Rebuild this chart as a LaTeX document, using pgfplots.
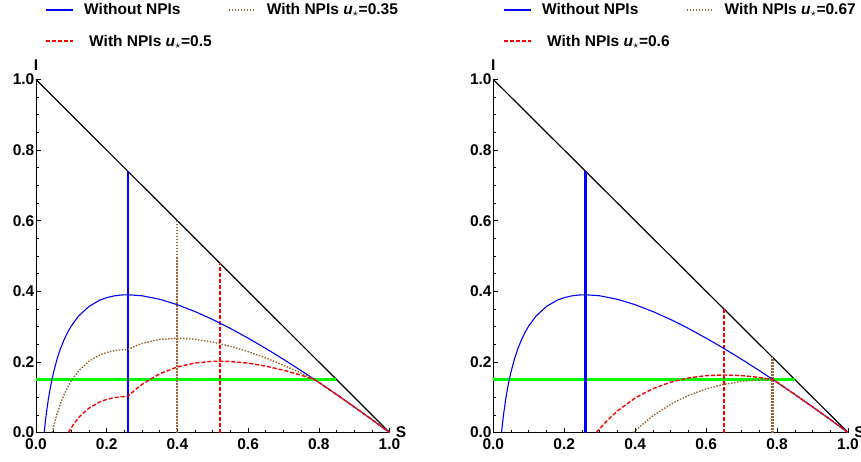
\documentclass[border=0pt]{standalone}
\usepackage{fontspec}
\setmainfont{Liberation Sans}
\usepackage{pgfplots}
\pgfplotsset{compat=1.18}
\definecolor{npibrown}{rgb}{0.6,0.4,0.2}
\definecolor{npigreen}{rgb}{0,1,0}
\definecolor{npiblue}{rgb}{0,0,1}
\definecolor{npired}{rgb}{1,0,0}
\newcommand{\us}{\textit{u}$_{\star}$}
\pgfplotstableread{
S I
0.0233 0
0.024 0.0074
0.025 0.0170
0.027 0.0350
0.03 0.0593
0.035 0.0944
0.04 0.1240
0.045 0.1496
0.05 0.1720
0.06 0.2094
0.07 0.2394
0.08 0.2641
0.09 0.2847
0.10 0.3020
0.12 0.3294
0.15 0.3573
0.18 0.3747
0.20 0.3820
0.22 0.3868
0.24 0.3894
0.26 0.3902
0.30 0.3873
0.35 0.3774
0.40 0.3620
0.45 0.3426
0.50 0.3200
0.55 0.2948
0.60 0.2673
0.65 0.2381
0.70 0.2074
0.75 0.1753
0.788 0.1501
0.80 0.1421
0.85 0.1078
0.90 0.0726
0.95 0.0367
1.0 0
}\tabnonpi
\pgfplotstableread{
S I
0.0462 0
0.048 0.0081
0.05 0.0167
0.055 0.0365
0.06 0.0541
0.07 0.0841
0.08 0.1088
0.09 0.1294
0.10 0.1467
0.12 0.1741
0.15 0.2020
0.18 0.2194
0.20 0.2267
0.22 0.2315
0.24 0.2341
0.26 0.2349
0.28 0.2445
0.30 0.2521
0.35 0.2637
0.40 0.2670
0.45 0.2641
0.50 0.2562
0.55 0.2443
0.60 0.2291
0.65 0.2111
0.70 0.1907
0.75 0.1682
0.788 0.1500
0.80 0.1421
0.85 0.1078
0.90 0.0726
0.95 0.0367
1.0 0
}\tabuA
\pgfplotstableread{
S I
0.0919 0
0.093 0.0020
0.095 0.0055
0.10 0.0138
0.11 0.0286
0.12 0.0412
0.13 0.0520
0.15 0.0691
0.18 0.0865
0.20 0.0938
0.22 0.0986
0.24 0.1012
0.26 0.1020
0.28 0.1205
0.30 0.1363
0.35 0.1664
0.40 0.1858
0.45 0.1970
0.50 0.2017
0.52 0.2021
0.55 0.2012
0.60 0.1964
0.65 0.1880
0.70 0.1765
0.75 0.1623
0.788 0.1500
0.80 0.1421
0.85 0.1078
0.90 0.0726
0.95 0.0367
1.0 0
}\tabuB
\pgfplotstableread{
S I
0.291 0
0.295 0.0050
0.30 0.0109
0.32 0.0329
0.35 0.0611
0.40 0.0978
0.45 0.1242
0.50 0.1427
0.55 0.1546
0.60 0.1611
0.65 0.1630
0.70 0.1612
0.75 0.1560
0.788 0.1500
0.80 0.1421
0.85 0.1078
0.90 0.0726
0.95 0.0367
1.0 0
}\tabuC
\pgfplotstableread{
S I
0.3955 0
0.40 0.0044
0.42 0.0228
0.45 0.0471
0.50 0.0801
0.55 0.1051
0.60 0.1235
0.65 0.1365
0.70 0.1448
0.75 0.1492
0.788 0.1500
0.80 0.1421
0.85 0.1078
0.90 0.0726
0.95 0.0367
1.0 0
}\tabuD
\pgfplotsset{
  sir/.style={
    scale only axis, height=353pt,
    xmin=0, xmax=1, ymin=0, ymax=1,
    axis lines*=left, clip=false,
    axis line style={black, line width=0.9pt},
    xtick={0,0.2,0.4,0.6,0.8,1.0},
    ytick={0,0.2,0.4,0.6,0.8,1.0},
    minor tick num=3,
    tick align=inside,
    major tick length=5pt, minor tick length=3pt,
    tick style={black, line width=0.6pt},
    /pgf/number format/.cd, fixed, fixed zerofill, precision=1, assume math mode=true,
    /pgfplots/.cd,
    ticklabel style={font=\fontsize{15.5}{15.5}\selectfont\bfseries},
    xticklabel style={inner sep=5.5pt, anchor=north},
    yticklabel style={inner sep=1.5pt, anchor=east},
    xlabel={S}, ylabel={I},
    xlabel style={at={(rel axis cs:1.0325,0)}, anchor=center, font=\fontsize{15.5}{15.5}\selectfont\bfseries, inner sep=0pt},
    ylabel style={at={(rel axis cs:0,1.04)}, anchor=center, rotate=-90, font=\fontsize{15.5}{15.5}\selectfont\bfseries, inner sep=0pt},
    legend columns=2,
    legend cell align=left,
    legend image code/.code={\draw[##1, line width=2pt] (0pt,0pt) -- (27pt,0pt);},
    legend style={draw=none, fill=none, inner sep=0pt, anchor=north west,
      font=\fontsize{15.5}{18}\selectfont\bfseries,
      row sep=15pt, column sep=8pt,
      /tikz/every even column/.append style={column sep=14pt}},
  },
  curveNo/.style={color=npiblue, line width=1.1pt},
  vertNo/.style={color=npiblue, line width=2.1pt},
  curveBr/.style={color=npibrown, line width=1.4pt, dash pattern=on 1.5pt off 1.5pt},
  vertBr/.style={color=npibrown, line width=2.1pt, dash pattern=on 1.5pt off 1.5pt},
  curveRd/.style={color=npired, line width=1.4pt, dash pattern=on 4pt off 2pt},
  vertRd/.style={color=npired, line width=2.1pt, dash pattern=on 4pt off 2pt},
  diag/.style={color=black, line width=1.2pt},
  thresh/.style={color=npigreen, line width=2.2pt},
}
\begin{document}
\begin{tikzpicture}
\useasboundingbox (0pt,0pt) rectangle (861pt,461pt);
% left panel
\begin{axis}[sir, width=353.5pt, at={(36pt,28.5pt)}, anchor=south west,
  legend style={at={(rel axis cs:0.0255,1.222)}}]
\addplot[diag, forget plot] coordinates {(0,1) (1,0)};
\addplot[thresh, forget plot] coordinates {(0,0.15) (0.85,0.15)};
\addplot[vertNo, forget plot] coordinates {(0.26,0) (0.26,0.74)};
\addplot[vertBr, forget plot] coordinates {(0.40,0) (0.40,0.60)};
\addplot[vertRd, forget plot] coordinates {(0.52,0) (0.52,0.48)};
\addplot[curveNo] table[x=S,y=I] {\tabnonpi};
\addplot[curveBr] table[x=S,y=I] {\tabuA};
\addplot[curveRd] table[x=S,y=I] {\tabuB};
\legend{Without NPIs, With NPIs \us=0.35, \hspace*{5pt}With NPIs \us=0.5}
\end{axis}
% right panel
\begin{axis}[sir, width=354.7pt, at={(493.3pt,28.5pt)}, anchor=south west,
  legend style={at={(rel axis cs:0.027,1.222)}}]
\addplot[diag, forget plot] coordinates {(0,1) (1,0)};
\addplot[thresh, forget plot] coordinates {(0,0.15) (0.85,0.15)};
\addplot[vertNo, forget plot] coordinates {(0.26,0) (0.26,0.74)};
\addplot[vertRd, forget plot] coordinates {(0.65,0) (0.65,0.35)};
\addplot[vertBr, forget plot] coordinates {(0.787,0) (0.787,0.213)};
\addplot[curveNo] table[x=S,y=I] {\tabnonpi};
\addplot[curveBr] table[x=S,y=I] {\tabuD};
\addplot[curveRd] table[x=S,y=I] {\tabuC};
\legend{Without NPIs, With NPIs \us=0.67, \hspace*{5pt}With NPIs \us=0.6}
\end{axis}
\end{tikzpicture}
\end{document}
